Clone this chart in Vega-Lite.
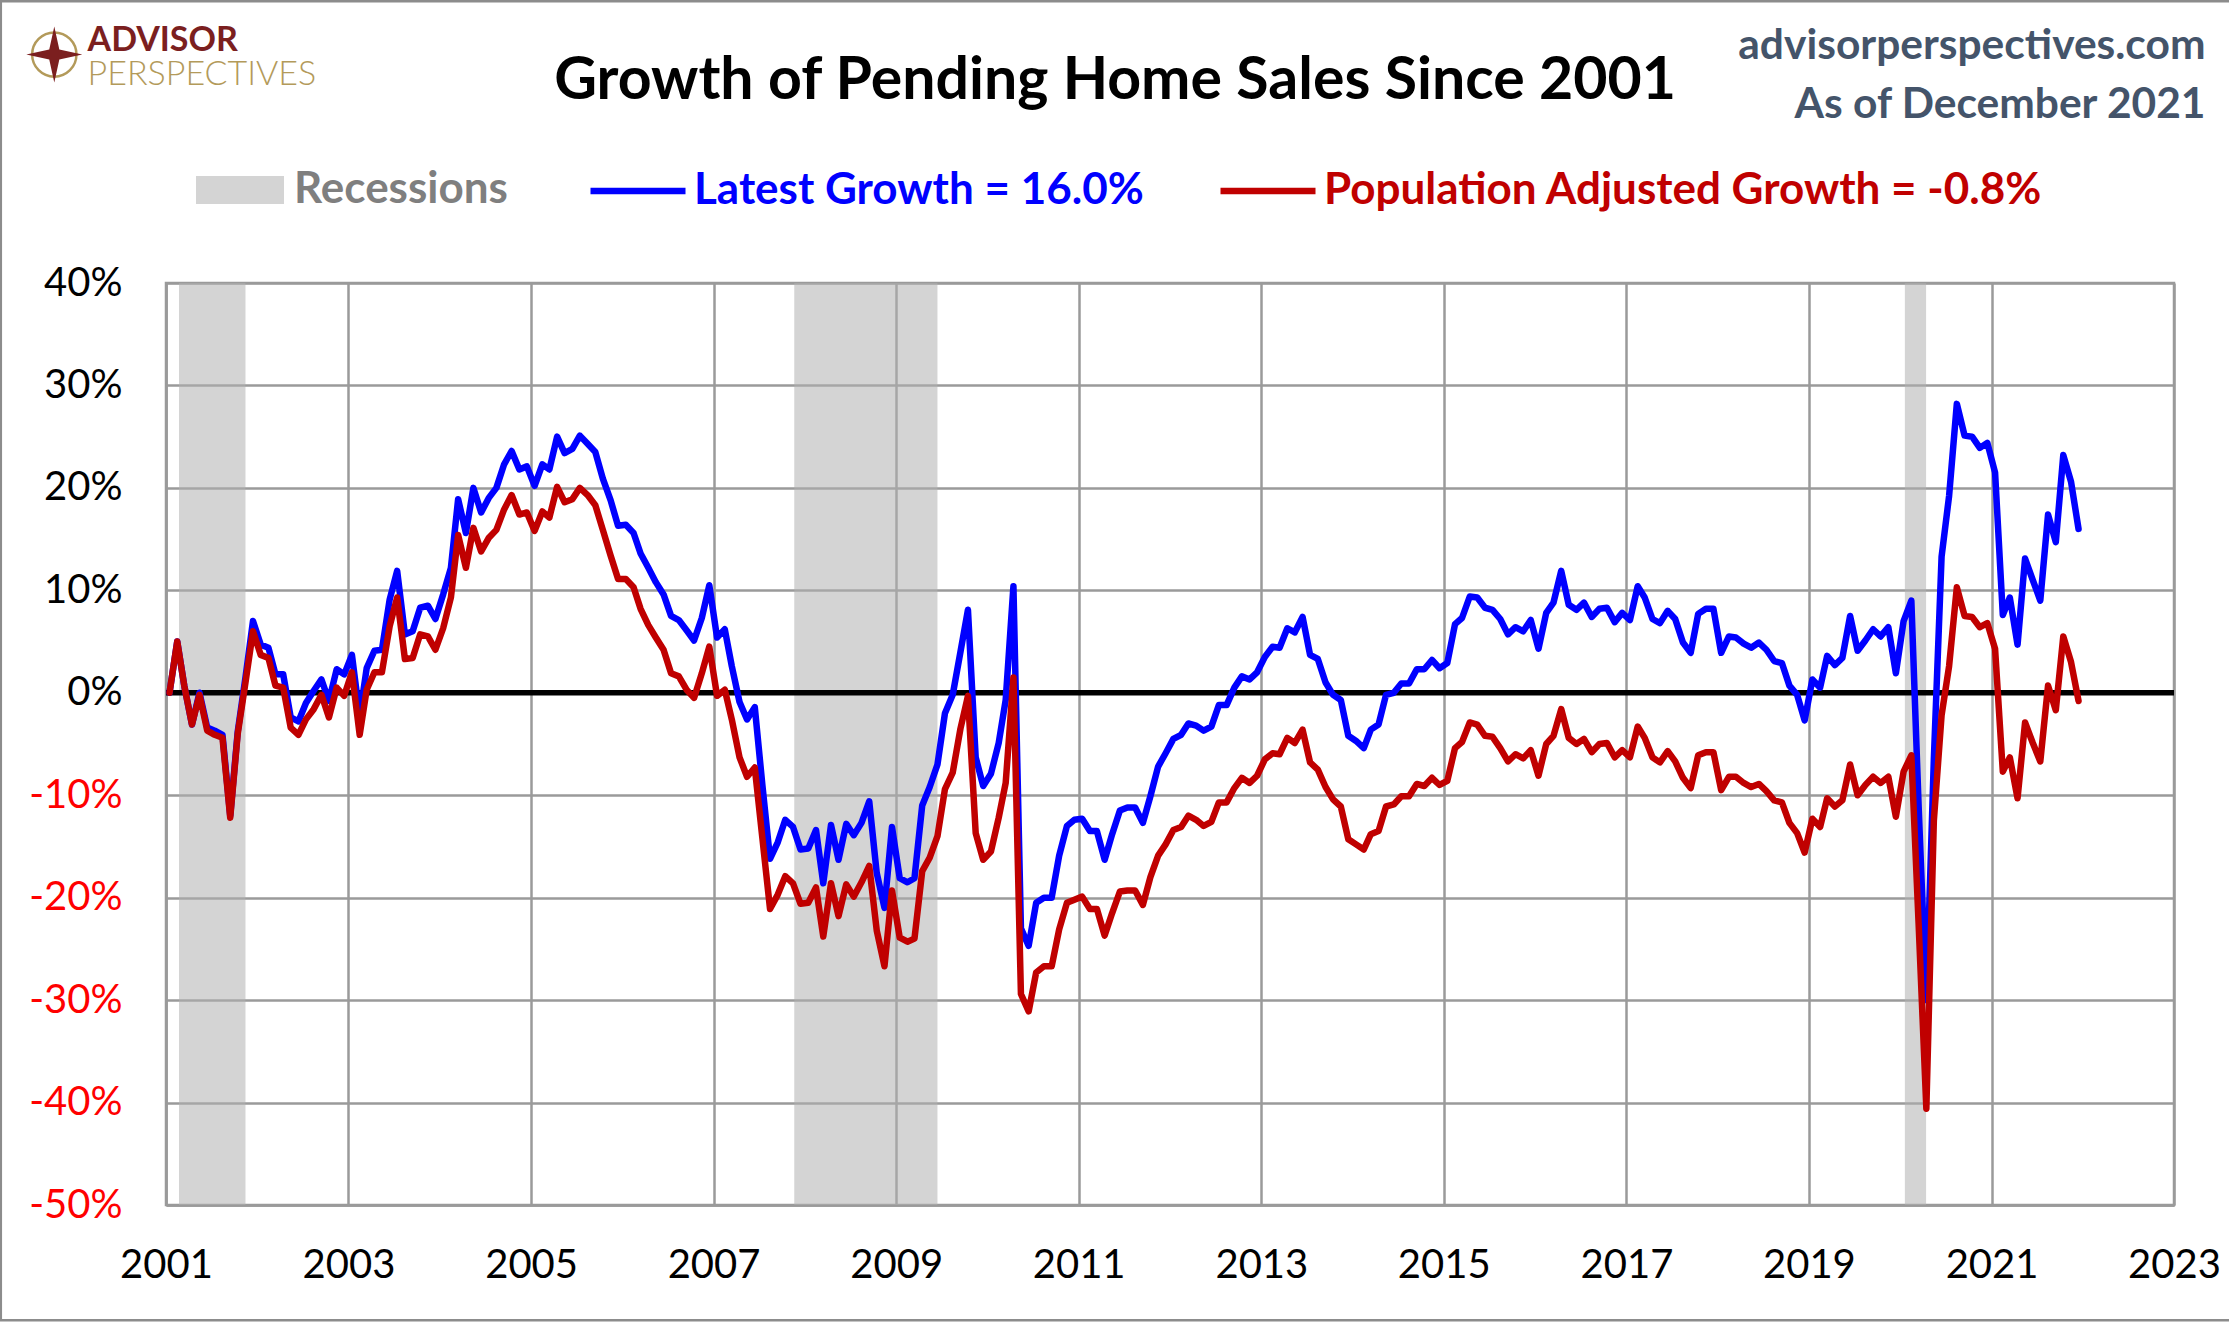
{
  "$schema": "https://vega.github.io/schema/vega-lite/v6.json",
  "width": 2008,
  "height": 922,
  "autosize": "none",
  "padding": {"left": 166, "top": 283, "right": 55, "bottom": 117},
  "background": "white",
  "config": {
    "font": "Lato",
    "view": {"stroke": "#9A9A9A", "strokeWidth": 2.5},
    "axis": {
      "labelFont": "Lato", "labelFontSize": 40, "labelColor": "#000000",
      "gridColor": "#9A9A9A", "gridWidth": 2.5,
      "domainColor": "#9A9A9A", "domainWidth": 2.5,
      "ticks": false
    },
    "legend": {"labelFont": "Lato", "labelFontSize": 44, "labelFontWeight": "bold", "padding": 0, "title": null, "labelLimit": 0}
  },
  "title": {
    "text": "Growth of Pending Home Sales Since 2001",
    "font": "Lato", "fontSize": 59, "fontWeight": "bold", "color": "#000000",
    "anchor": "middle", "frame": "group", "dx": -55, "offset": -157.5, "baseline": "alphabetic"
  },
  "datasets": {
    "recessions": [
      {"start": "2001-02-22", "end": "2001-11-15"},
      {"start": "2007-11-20", "end": "2009-06-15"},
      {"start": "2020-01-20", "end": "2020-04-14"}
    ],
    "sales": [
      {"date": "2001-01-15", "latest": 0, "adjusted": 0},
      {"date": "2001-02-15", "latest": 5.0, "adjusted": 5.0},
      {"date": "2001-03-15", "latest": 0.7, "adjusted": 0.7},
      {"date": "2001-04-15", "latest": -3.1, "adjusted": -3.1},
      {"date": "2001-05-15", "latest": 0.0, "adjusted": -0.2},
      {"date": "2001-06-15", "latest": -3.4, "adjusted": -3.7},
      {"date": "2001-07-15", "latest": -3.7, "adjusted": -4.1},
      {"date": "2001-08-15", "latest": -4.1, "adjusted": -4.4},
      {"date": "2001-09-15", "latest": -12.0, "adjusted": -12.2},
      {"date": "2001-10-15", "latest": -3.8, "adjusted": -4.0},
      {"date": "2001-11-15", "latest": 1.5, "adjusted": 1.0},
      {"date": "2001-12-15", "latest": 7.0, "adjusted": 6.0},
      {"date": "2002-01-15", "latest": 4.7, "adjusted": 3.7},
      {"date": "2002-02-15", "latest": 4.4, "adjusted": 3.4},
      {"date": "2002-03-15", "latest": 1.8, "adjusted": 0.7},
      {"date": "2002-04-15", "latest": 1.8, "adjusted": 0.5},
      {"date": "2002-05-15", "latest": -2.4, "adjusted": -3.4},
      {"date": "2002-06-15", "latest": -2.8, "adjusted": -4.1},
      {"date": "2002-07-15", "latest": -1.0, "adjusted": -2.6},
      {"date": "2002-08-15", "latest": 0.2, "adjusted": -1.6},
      {"date": "2002-09-15", "latest": 1.3, "adjusted": -0.2},
      {"date": "2002-10-15", "latest": -0.8, "adjusted": -2.4},
      {"date": "2002-11-15", "latest": 2.3, "adjusted": 0.5},
      {"date": "2002-12-15", "latest": 1.8, "adjusted": -0.3},
      {"date": "2003-01-15", "latest": 3.7, "adjusted": 2.0},
      {"date": "2003-02-15", "latest": -2.3, "adjusted": -4.1},
      {"date": "2003-03-15", "latest": 2.4, "adjusted": 0.3},
      {"date": "2003-04-15", "latest": 4.1, "adjusted": 2.0},
      {"date": "2003-05-15", "latest": 4.2, "adjusted": 2.0},
      {"date": "2003-06-15", "latest": 9.1, "adjusted": 6.5},
      {"date": "2003-07-15", "latest": 11.9, "adjusted": 9.3},
      {"date": "2003-08-15", "latest": 5.7, "adjusted": 3.3},
      {"date": "2003-09-15", "latest": 6.0, "adjusted": 3.4},
      {"date": "2003-10-15", "latest": 8.3, "adjusted": 5.7},
      {"date": "2003-11-15", "latest": 8.5, "adjusted": 5.5},
      {"date": "2003-12-15", "latest": 7.2, "adjusted": 4.2},
      {"date": "2004-01-15", "latest": 9.6, "adjusted": 6.3},
      {"date": "2004-02-15", "latest": 12.2, "adjusted": 9.3},
      {"date": "2004-03-15", "latest": 18.9, "adjusted": 15.4},
      {"date": "2004-04-15", "latest": 15.6, "adjusted": 12.2},
      {"date": "2004-05-15", "latest": 20.0, "adjusted": 16.1},
      {"date": "2004-06-15", "latest": 17.6, "adjusted": 13.8},
      {"date": "2004-07-15", "latest": 19.0, "adjusted": 15.1},
      {"date": "2004-08-15", "latest": 20.0, "adjusted": 15.9},
      {"date": "2004-09-15", "latest": 22.3, "adjusted": 17.9},
      {"date": "2004-10-15", "latest": 23.6, "adjusted": 19.3},
      {"date": "2004-11-15", "latest": 21.8, "adjusted": 17.4},
      {"date": "2004-12-15", "latest": 22.1, "adjusted": 17.6},
      {"date": "2005-01-15", "latest": 20.2, "adjusted": 15.8},
      {"date": "2005-02-15", "latest": 22.3, "adjusted": 17.7},
      {"date": "2005-03-15", "latest": 21.8, "adjusted": 17.1},
      {"date": "2005-04-15", "latest": 25.0, "adjusted": 20.1},
      {"date": "2005-05-15", "latest": 23.4, "adjusted": 18.6},
      {"date": "2005-06-15", "latest": 23.8, "adjusted": 18.9},
      {"date": "2005-07-15", "latest": 25.1, "adjusted": 20.0},
      {"date": "2005-08-15", "latest": 24.3, "adjusted": 19.3},
      {"date": "2005-09-15", "latest": 23.5, "adjusted": 18.3},
      {"date": "2005-10-15", "latest": 20.9, "adjusted": 15.9},
      {"date": "2005-11-15", "latest": 18.8, "adjusted": 13.4},
      {"date": "2005-12-15", "latest": 16.3, "adjusted": 11.1},
      {"date": "2006-01-15", "latest": 16.4, "adjusted": 11.1},
      {"date": "2006-02-15", "latest": 15.6, "adjusted": 10.3},
      {"date": "2006-03-15", "latest": 13.6, "adjusted": 8.2},
      {"date": "2006-04-15", "latest": 12.2, "adjusted": 6.6},
      {"date": "2006-05-15", "latest": 10.8, "adjusted": 5.4},
      {"date": "2006-06-15", "latest": 9.6, "adjusted": 4.2},
      {"date": "2006-07-15", "latest": 7.5, "adjusted": 1.9},
      {"date": "2006-08-15", "latest": 7.1, "adjusted": 1.6},
      {"date": "2006-09-15", "latest": 6.1, "adjusted": 0.3},
      {"date": "2006-10-15", "latest": 5.1, "adjusted": -0.5},
      {"date": "2006-11-15", "latest": 7.3, "adjusted": 1.9},
      {"date": "2006-12-15", "latest": 10.5, "adjusted": 4.5},
      {"date": "2007-01-15", "latest": 5.4, "adjusted": -0.3},
      {"date": "2007-02-15", "latest": 6.2, "adjusted": 0.3},
      {"date": "2007-03-15", "latest": 2.6, "adjusted": -2.6},
      {"date": "2007-04-15", "latest": -0.9, "adjusted": -6.3},
      {"date": "2007-05-15", "latest": -2.6, "adjusted": -8.2},
      {"date": "2007-06-15", "latest": -1.4, "adjusted": -7.3},
      {"date": "2007-07-15", "latest": -8.9, "adjusted": -14.1},
      {"date": "2007-08-15", "latest": -16.2, "adjusted": -21.1},
      {"date": "2007-09-15", "latest": -14.6, "adjusted": -19.7},
      {"date": "2007-10-15", "latest": -12.4, "adjusted": -17.9},
      {"date": "2007-11-15", "latest": -13.1, "adjusted": -18.6},
      {"date": "2007-12-15", "latest": -15.3, "adjusted": -20.6},
      {"date": "2008-01-15", "latest": -15.2, "adjusted": -20.5},
      {"date": "2008-02-15", "latest": -13.4, "adjusted": -19.0},
      {"date": "2008-03-15", "latest": -18.6, "adjusted": -23.8},
      {"date": "2008-04-15", "latest": -12.9, "adjusted": -18.6},
      {"date": "2008-05-15", "latest": -16.3, "adjusted": -21.8},
      {"date": "2008-06-15", "latest": -12.8, "adjusted": -18.7},
      {"date": "2008-07-15", "latest": -13.9, "adjusted": -19.9},
      {"date": "2008-08-15", "latest": -12.7, "adjusted": -18.5},
      {"date": "2008-09-15", "latest": -10.6, "adjusted": -16.9},
      {"date": "2008-10-15", "latest": -17.6, "adjusted": -23.2},
      {"date": "2008-11-15", "latest": -21.0, "adjusted": -26.7},
      {"date": "2008-12-15", "latest": -13.1, "adjusted": -19.3},
      {"date": "2009-01-15", "latest": -18.1, "adjusted": -23.9},
      {"date": "2009-02-15", "latest": -18.5, "adjusted": -24.3},
      {"date": "2009-03-15", "latest": -18.1, "adjusted": -24.0},
      {"date": "2009-04-15", "latest": -11.0, "adjusted": -17.4},
      {"date": "2009-05-15", "latest": -9.2, "adjusted": -16.1},
      {"date": "2009-06-15", "latest": -7.0, "adjusted": -14.0},
      {"date": "2009-07-15", "latest": -2.0, "adjusted": -9.4},
      {"date": "2009-08-15", "latest": -0.2, "adjusted": -7.8},
      {"date": "2009-09-15", "latest": 4.0, "adjusted": -3.5},
      {"date": "2009-10-15", "latest": 8.1, "adjusted": -0.3},
      {"date": "2009-11-15", "latest": -6.3, "adjusted": -13.7},
      {"date": "2009-12-15", "latest": -9.1, "adjusted": -16.3},
      {"date": "2010-01-15", "latest": -7.9, "adjusted": -15.5},
      {"date": "2010-02-15", "latest": -4.9, "adjusted": -12.2},
      {"date": "2010-03-15", "latest": -0.7, "adjusted": -8.8},
      {"date": "2010-04-15", "latest": 10.4, "adjusted": 1.5},
      {"date": "2010-05-15", "latest": -23.0, "adjusted": -29.4},
      {"date": "2010-06-15", "latest": -24.7, "adjusted": -31.1},
      {"date": "2010-07-15", "latest": -20.5, "adjusted": -27.3},
      {"date": "2010-08-15", "latest": -20.0, "adjusted": -26.7},
      {"date": "2010-09-15", "latest": -20.0, "adjusted": -26.7},
      {"date": "2010-10-15", "latest": -15.9, "adjusted": -23.1},
      {"date": "2010-11-15", "latest": -13.0, "adjusted": -20.5},
      {"date": "2010-12-15", "latest": -12.4, "adjusted": -20.2},
      {"date": "2011-01-15", "latest": -12.3, "adjusted": -19.9},
      {"date": "2011-02-15", "latest": -13.5, "adjusted": -21.1},
      {"date": "2011-03-15", "latest": -13.5, "adjusted": -21.1},
      {"date": "2011-04-15", "latest": -16.3, "adjusted": -23.7},
      {"date": "2011-05-15", "latest": -13.8, "adjusted": -21.5},
      {"date": "2011-06-15", "latest": -11.5, "adjusted": -19.4},
      {"date": "2011-07-15", "latest": -11.2, "adjusted": -19.3},
      {"date": "2011-08-15", "latest": -11.2, "adjusted": -19.3},
      {"date": "2011-09-15", "latest": -12.7, "adjusted": -20.7},
      {"date": "2011-10-15", "latest": -10.1, "adjusted": -18.0},
      {"date": "2011-11-15", "latest": -7.2, "adjusted": -15.9},
      {"date": "2011-12-15", "latest": -5.9, "adjusted": -14.8},
      {"date": "2012-01-15", "latest": -4.5, "adjusted": -13.4},
      {"date": "2012-02-15", "latest": -4.1, "adjusted": -13.1},
      {"date": "2012-03-15", "latest": -3.0, "adjusted": -12.0},
      {"date": "2012-04-15", "latest": -3.2, "adjusted": -12.4},
      {"date": "2012-05-15", "latest": -3.7, "adjusted": -13.0},
      {"date": "2012-06-15", "latest": -3.3, "adjusted": -12.6},
      {"date": "2012-07-15", "latest": -1.2, "adjusted": -10.7},
      {"date": "2012-08-15", "latest": -1.2, "adjusted": -10.7},
      {"date": "2012-09-15", "latest": 0.5, "adjusted": -9.3},
      {"date": "2012-10-15", "latest": 1.6, "adjusted": -8.3},
      {"date": "2012-11-15", "latest": 1.3, "adjusted": -8.8},
      {"date": "2012-12-15", "latest": 2.0, "adjusted": -8.1},
      {"date": "2013-01-15", "latest": 3.5, "adjusted": -6.5},
      {"date": "2013-02-15", "latest": 4.5, "adjusted": -5.9},
      {"date": "2013-03-15", "latest": 4.4, "adjusted": -6.0},
      {"date": "2013-04-15", "latest": 6.3, "adjusted": -4.4},
      {"date": "2013-05-15", "latest": 5.9, "adjusted": -4.9},
      {"date": "2013-06-15", "latest": 7.4, "adjusted": -3.6},
      {"date": "2013-07-15", "latest": 3.7, "adjusted": -6.8},
      {"date": "2013-08-15", "latest": 3.3, "adjusted": -7.5},
      {"date": "2013-09-15", "latest": 1.0, "adjusted": -9.2},
      {"date": "2013-10-15", "latest": -0.2, "adjusted": -10.4},
      {"date": "2013-11-15", "latest": -0.7, "adjusted": -11.1},
      {"date": "2013-12-15", "latest": -4.2, "adjusted": -14.3},
      {"date": "2014-01-15", "latest": -4.7, "adjusted": -14.8},
      {"date": "2014-02-15", "latest": -5.4, "adjusted": -15.3},
      {"date": "2014-03-15", "latest": -3.6, "adjusted": -13.8},
      {"date": "2014-04-15", "latest": -3.1, "adjusted": -13.5},
      {"date": "2014-05-15", "latest": -0.2, "adjusted": -11.1},
      {"date": "2014-06-15", "latest": 0.0, "adjusted": -10.9},
      {"date": "2014-07-15", "latest": 0.9, "adjusted": -10.1},
      {"date": "2014-08-15", "latest": 0.9, "adjusted": -10.1},
      {"date": "2014-09-15", "latest": 2.3, "adjusted": -8.9},
      {"date": "2014-10-15", "latest": 2.3, "adjusted": -9.1},
      {"date": "2014-11-15", "latest": 3.2, "adjusted": -8.3},
      {"date": "2014-12-15", "latest": 2.4, "adjusted": -9.0},
      {"date": "2015-01-15", "latest": 2.9, "adjusted": -8.6},
      {"date": "2015-02-15", "latest": 6.7, "adjusted": -5.4},
      {"date": "2015-03-15", "latest": 7.3, "adjusted": -4.8},
      {"date": "2015-04-15", "latest": 9.4, "adjusted": -2.9},
      {"date": "2015-05-15", "latest": 9.3, "adjusted": -3.1},
      {"date": "2015-06-15", "latest": 8.3, "adjusted": -4.2},
      {"date": "2015-07-15", "latest": 8.1, "adjusted": -4.3},
      {"date": "2015-08-15", "latest": 7.2, "adjusted": -5.4},
      {"date": "2015-09-15", "latest": 5.7, "adjusted": -6.7},
      {"date": "2015-10-15", "latest": 6.4, "adjusted": -6.0},
      {"date": "2015-11-15", "latest": 6.0, "adjusted": -6.4},
      {"date": "2015-12-15", "latest": 7.1, "adjusted": -5.6},
      {"date": "2016-01-15", "latest": 4.3, "adjusted": -8.1},
      {"date": "2016-02-15", "latest": 7.8, "adjusted": -5.0},
      {"date": "2016-03-15", "latest": 8.8, "adjusted": -4.2},
      {"date": "2016-04-15", "latest": 11.9, "adjusted": -1.6},
      {"date": "2016-05-15", "latest": 8.6, "adjusted": -4.4},
      {"date": "2016-06-15", "latest": 8.1, "adjusted": -5.0},
      {"date": "2016-07-15", "latest": 8.8, "adjusted": -4.5},
      {"date": "2016-08-15", "latest": 7.4, "adjusted": -5.8},
      {"date": "2016-09-15", "latest": 8.2, "adjusted": -5.0},
      {"date": "2016-10-15", "latest": 8.3, "adjusted": -4.9},
      {"date": "2016-11-15", "latest": 6.9, "adjusted": -6.3},
      {"date": "2016-12-15", "latest": 7.8, "adjusted": -5.6},
      {"date": "2017-01-15", "latest": 7.1, "adjusted": -6.3},
      {"date": "2017-02-15", "latest": 10.4, "adjusted": -3.3},
      {"date": "2017-03-15", "latest": 9.3, "adjusted": -4.4},
      {"date": "2017-04-15", "latest": 7.2, "adjusted": -6.3},
      {"date": "2017-05-15", "latest": 6.8, "adjusted": -6.8},
      {"date": "2017-06-15", "latest": 8.0, "adjusted": -5.7},
      {"date": "2017-07-15", "latest": 7.2, "adjusted": -6.7},
      {"date": "2017-08-15", "latest": 4.9, "adjusted": -8.3},
      {"date": "2017-09-15", "latest": 3.9, "adjusted": -9.3},
      {"date": "2017-10-15", "latest": 7.7, "adjusted": -6.1},
      {"date": "2017-11-15", "latest": 8.2, "adjusted": -5.8},
      {"date": "2017-12-15", "latest": 8.2, "adjusted": -5.8},
      {"date": "2018-01-15", "latest": 3.9, "adjusted": -9.5},
      {"date": "2018-02-15", "latest": 5.5, "adjusted": -8.2},
      {"date": "2018-03-15", "latest": 5.4, "adjusted": -8.2},
      {"date": "2018-04-15", "latest": 4.8, "adjusted": -8.8},
      {"date": "2018-05-15", "latest": 4.4, "adjusted": -9.2},
      {"date": "2018-06-15", "latest": 4.9, "adjusted": -8.9},
      {"date": "2018-07-15", "latest": 4.2, "adjusted": -9.6},
      {"date": "2018-08-15", "latest": 3.1, "adjusted": -10.5},
      {"date": "2018-09-15", "latest": 2.9, "adjusted": -10.7},
      {"date": "2018-10-15", "latest": 0.7, "adjusted": -12.7},
      {"date": "2018-11-15", "latest": -0.2, "adjusted": -13.7},
      {"date": "2018-12-15", "latest": -2.7, "adjusted": -15.6},
      {"date": "2019-01-15", "latest": 1.3, "adjusted": -12.3},
      {"date": "2019-02-15", "latest": 0.5, "adjusted": -13.1},
      {"date": "2019-03-15", "latest": 3.6, "adjusted": -10.3},
      {"date": "2019-04-15", "latest": 2.7, "adjusted": -11.1},
      {"date": "2019-05-15", "latest": 3.4, "adjusted": -10.5},
      {"date": "2019-06-15", "latest": 7.5, "adjusted": -7.0},
      {"date": "2019-07-15", "latest": 4.1, "adjusted": -10.0},
      {"date": "2019-08-15", "latest": 5.1, "adjusted": -9.0},
      {"date": "2019-09-15", "latest": 6.2, "adjusted": -8.2},
      {"date": "2019-10-15", "latest": 5.5, "adjusted": -8.8},
      {"date": "2019-11-15", "latest": 6.4, "adjusted": -8.2},
      {"date": "2019-12-15", "latest": 1.9, "adjusted": -12.1},
      {"date": "2020-01-15", "latest": 7.0, "adjusted": -7.7},
      {"date": "2020-02-15", "latest": 9.0, "adjusted": -6.1},
      {"date": "2020-03-15", "latest": -11.0, "adjusted": -22.5},
      {"date": "2020-04-15", "latest": -30.0, "adjusted": -40.6},
      {"date": "2020-05-15", "latest": -6.5, "adjusted": -12.5},
      {"date": "2020-06-15", "latest": 13.3, "adjusted": -2.2},
      {"date": "2020-07-15", "latest": 19.2, "adjusted": 2.6},
      {"date": "2020-08-15", "latest": 28.2, "adjusted": 10.3},
      {"date": "2020-09-15", "latest": 25.1, "adjusted": 7.5},
      {"date": "2020-10-15", "latest": 25.0, "adjusted": 7.4},
      {"date": "2020-11-15", "latest": 23.9, "adjusted": 6.4},
      {"date": "2020-12-15", "latest": 24.4, "adjusted": 6.8},
      {"date": "2021-01-15", "latest": 21.5, "adjusted": 4.3},
      {"date": "2021-02-15", "latest": 7.6, "adjusted": -7.7},
      {"date": "2021-03-15", "latest": 9.3, "adjusted": -6.3},
      {"date": "2021-04-15", "latest": 4.7, "adjusted": -10.3},
      {"date": "2021-05-15", "latest": 13.1, "adjusted": -2.9},
      {"date": "2021-06-15", "latest": 11.0, "adjusted": -4.9},
      {"date": "2021-07-15", "latest": 9.0, "adjusted": -6.7},
      {"date": "2021-08-15", "latest": 17.4, "adjusted": 0.7},
      {"date": "2021-09-15", "latest": 14.7, "adjusted": -1.7},
      {"date": "2021-10-15", "latest": 23.2, "adjusted": 5.5},
      {"date": "2021-11-15", "latest": 20.6, "adjusted": 3.0},
      {"date": "2021-12-15", "latest": 16.0, "adjusted": -0.8}
    ]
  },
  "layer": [
    {
      "data": {"name": "recessions"},
      "mark": {"type": "rect", "opacity": 0.55},
      "encoding": {
        "x": {"field": "start", "type": "temporal", "title": null},
        "x2": {"field": "end"},
        "fill": {
          "datum": "Recessions", "type": "nominal",
          "scale": {"range": ["#B0B0B0"]},
          "legend": {
            "orient": "none", "legendX": 30, "legendY": -137,
            "symbolType": "M-1,-0.32L1,-0.32L1,0.32L-1,0.32Z",
            "symbolSize": 7744, "symbolOpacity": 0.55, "symbolStrokeWidth": 0,
            "labelColor": "#7F7F7F", "labelOffset": 10
          }
        }
      }
    },
    {
      "data": {"values": [{}]},
      "mark": {"type": "rule", "color": "#000000", "strokeWidth": 5.5},
      "encoding": {"y": {"datum": 0, "type": "quantitative", "title": null}}
    },
    {
      "data": {"name": "sales"},
      "mark": {"type": "line", "strokeWidth": 6.5, "strokeJoin": "round", "strokeCap": "round"},
      "encoding": {
        "x": {
          "field": "date", "type": "temporal", "title": null,
          "scale": {
            "type": "utc",
            "domain": [{"year": 2001, "month": 1, "date": 1, "utc": true}, {"year": 2023, "month": 1, "date": 1, "utc": true}]
          },
          "axis": {
            "values": [
              {"year": 2001, "month": 1, "date": 1, "utc": true},
              {"year": 2003, "month": 1, "date": 1, "utc": true},
              {"year": 2005, "month": 1, "date": 1, "utc": true},
              {"year": 2007, "month": 1, "date": 1, "utc": true},
              {"year": 2009, "month": 1, "date": 1, "utc": true},
              {"year": 2011, "month": 1, "date": 1, "utc": true},
              {"year": 2013, "month": 1, "date": 1, "utc": true},
              {"year": 2015, "month": 1, "date": 1, "utc": true},
              {"year": 2017, "month": 1, "date": 1, "utc": true},
              {"year": 2019, "month": 1, "date": 1, "utc": true},
              {"year": 2021, "month": 1, "date": 1, "utc": true},
              {"year": 2023, "month": 1, "date": 1, "utc": true}
            ],
            "format": "%Y", "grid": true, "labelPadding": 40, "labelFlush": false, "labelOverlap": false
          }
        },
        "y": {
          "field": "latest", "type": "quantitative", "title": null,
          "scale": {"domain": [-50, 40], "nice": false, "zero": false},
          "axis": {
            "values": [-50, -40, -30, -20, -10, 0, 10, 20, 30, 40],
            "labelExpr": "datum.value + '%'",
            "labelColor": {"condition": {"test": "datum.value < 0", "value": "#FF0000"}, "value": "#000000"},
            "labelPadding": 44, "grid": true
          }
        },
        "stroke": {
          "datum": "Latest Growth = 16.0%", "type": "nominal",
          "scale": {"range": ["#0000FF"]},
          "legend": {
            "orient": "none", "legendX": 421, "legendY": -143,
            "symbolSize": 9025, "symbolStrokeWidth": 6.5,
            "labelColor": "#0000FF", "labelOffset": 5
          }
        }
      }
    },
    {
      "data": {"name": "sales"},
      "mark": {"type": "line", "strokeWidth": 6.5, "strokeJoin": "round", "strokeCap": "round"},
      "encoding": {
        "x": {"field": "date", "type": "temporal", "title": null},
        "y": {"field": "adjusted", "type": "quantitative", "title": null},
        "color": {
          "datum": "Population Adjusted Growth = -0.8%", "type": "nominal",
          "scale": {"range": ["#C00000"]},
          "legend": {
            "orient": "none", "legendX": 1051, "legendY": -143,
            "symbolSize": 9025, "symbolStrokeWidth": 6.5,
            "labelColor": "#C00000", "labelOffset": 5
          }
        }
      }
    },
    {
      "data": {"values": [{}]},
      "layer": [
        {
          "mark": {"type": "rect", "fill": "transparent", "stroke": "#8C8C8C", "strokeWidth": 2.5},
          "encoding": {
            "x": {"datum": {"year": 1999, "month": 3, "date": 12, "utc": true}, "type": "temporal", "title": null},
            "x2": {"datum": {"year": 2023, "month": 8, "date": 18, "utc": true}},
            "y": {"datum": 67.5, "type": "quantitative", "title": null},
            "y2": {"datum": -61.26}
          }
        },
        {
          "mark": {"type": "text", "text": "advisorperspectives.com", "align": "right", "baseline": "alphabetic", "font": "Lato", "fontSize": 42.5, "fontWeight": "bold", "color": "#44546A"},
          "encoding": {
            "x": {"datum": {"year": 2023, "month": 5, "date": 7, "utc": true}, "type": "temporal", "title": null},
            "y": {"datum": 61.9, "type": "quantitative", "title": null}
          }
        },
        {
          "mark": {"type": "text", "text": "As of December 2021", "align": "right", "baseline": "alphabetic", "font": "Lato", "fontSize": 42.5, "fontWeight": "bold", "color": "#44546A"},
          "encoding": {
            "x": {"datum": {"year": 2023, "month": 5, "date": 7, "utc": true}, "type": "temporal", "title": null},
            "y": {"datum": 56.1, "type": "quantitative", "title": null}
          }
        },
        {
          "mark": {"type": "text", "text": "ADVISOR", "align": "left", "baseline": "alphabetic", "font": "Lato", "fontSize": 34, "fontWeight": "bold", "color": "#7B1F1F"},
          "encoding": {
            "x": {"datum": {"year": 2000, "month": 2, "date": 22, "utc": true}, "type": "temporal", "title": null},
            "y": {"datum": 62.6, "type": "quantitative", "title": null}
          }
        },
        {
          "mark": {"type": "text", "text": "PERSPECTIVES", "align": "left", "baseline": "alphabetic", "font": "Lato", "fontSize": 34, "fontWeight": 300, "color": "#B39A5A"},
          "encoding": {
            "x": {"datum": {"year": 2000, "month": 2, "date": 22, "utc": true}, "type": "temporal", "title": null},
            "y": {"datum": 59.3, "type": "quantitative", "title": null}
          }
        },
        {
          "mark": {"type": "point", "shape": "circle", "filled": false, "size": 1963, "stroke": "#B39A5A", "strokeWidth": 2.5, "opacity": 1},
          "encoding": {
            "x": {"datum": {"year": 1999, "month": 10, "date": 12, "utc": true}, "type": "temporal", "title": null},
            "y": {"datum": 62.3, "type": "quantitative", "title": null}
          }
        },
        {
          "mark": {"type": "point", "shape": "M0,-1L0.18,-0.18L1,0L0.18,0.18L0,1L-0.18,0.18L-1,0L-0.18,-0.18Z", "filled": true, "size": 3136, "color": "#7B1F1F", "opacity": 1},
          "encoding": {
            "x": {"datum": {"year": 1999, "month": 10, "date": 12, "utc": true}, "type": "temporal", "title": null},
            "y": {"datum": 62.3, "type": "quantitative", "title": null}
          }
        }
      ]
    }
  ]
}
